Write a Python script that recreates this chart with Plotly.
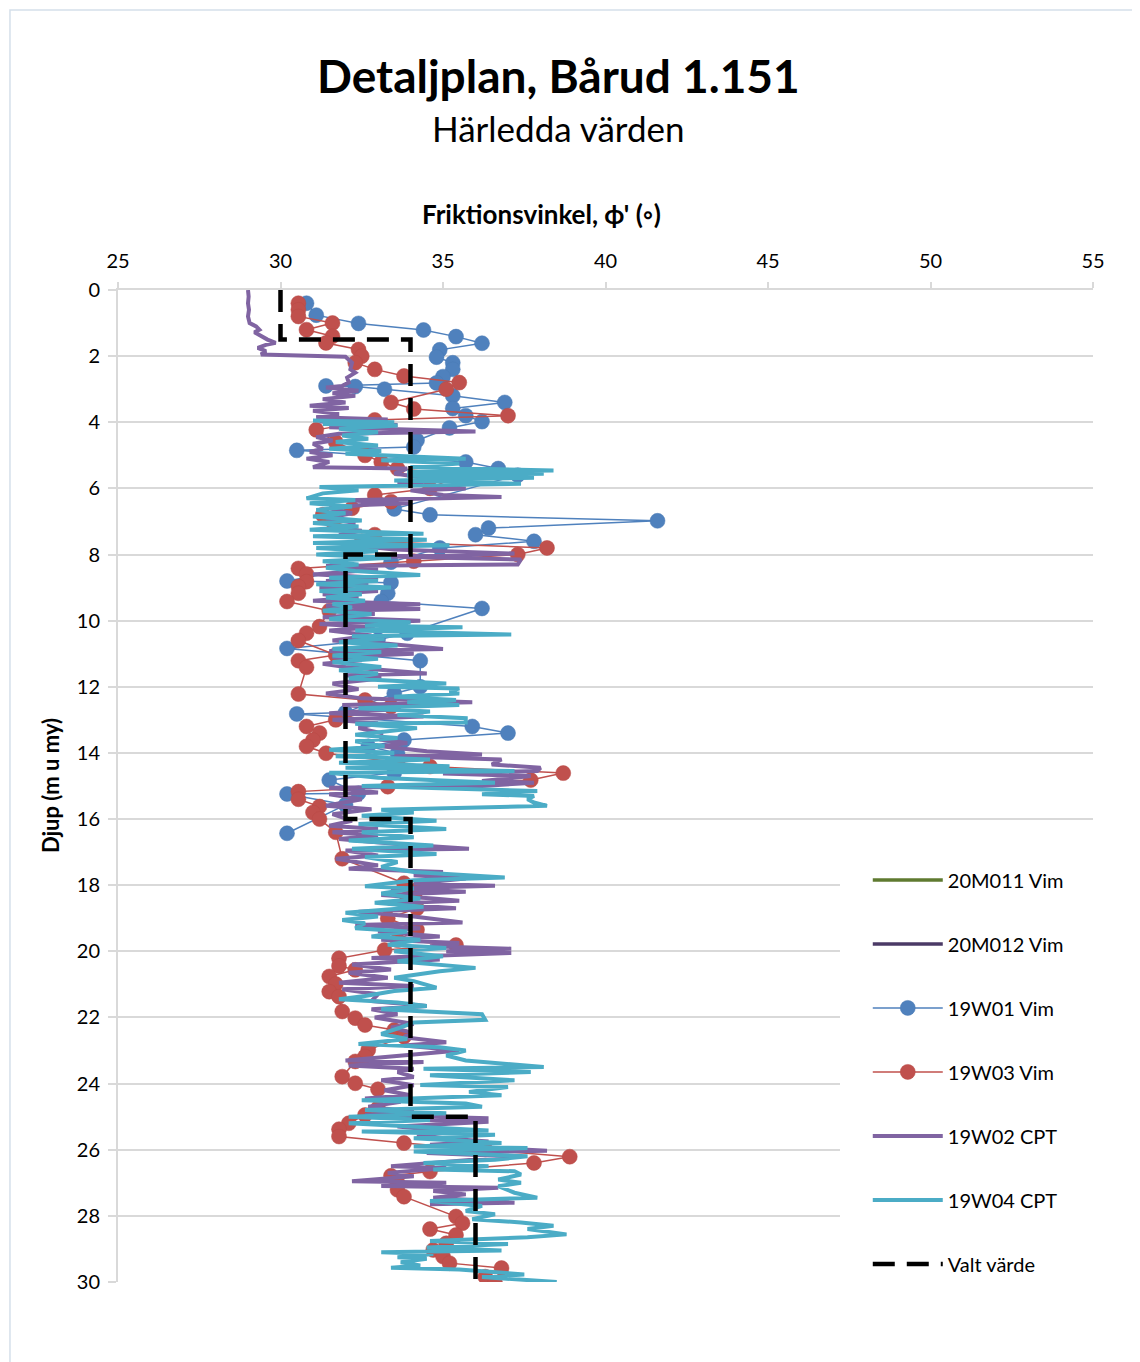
import plotly.graph_objects as go

# ---------------- data (depth m, friction angle deg) ----------------
W01_VIM = [
    (0.40, 30.8), (0.76, 31.1), (1.01, 32.4), (1.21, 34.4), (1.41, 35.4), (1.61, 36.2),
    (1.81, 34.9), (2.03, 34.8), (2.20, 35.3), (2.40, 35.3), (2.62, 35.0), (2.81, 34.8),
    (2.90, 31.4), (2.92, 32.3), (3.00, 33.2), (3.20, 35.3), (3.40, 36.9), (3.58, 35.3),
    (3.80, 35.7), (3.98, 36.2), (4.17, 35.2), (4.55, 34.2), (4.75, 34.1), (4.85, 30.5),
    (5.20, 35.7), (5.40, 36.7), (5.60, 37.3), (6.62, 33.5), (6.80, 34.6), (6.98, 41.6),
    (7.20, 36.4), (7.40, 36.0), (7.60, 37.8), (7.80, 34.9), (8.23, 33.4), (8.80, 30.2),
    (8.85, 33.4), (9.17, 33.3), (9.42, 33.1), (9.63, 36.2), (10.38, 33.9), (10.58, 33.0),
    (10.84, 30.2), (11.21, 34.3), (12.00, 34.3), (12.20, 33.5), (12.78, 32.0), (12.82, 30.5),
    (13.20, 35.9), (13.40, 37.0), (13.61, 33.8), (13.80, 32.7), (14.01, 33.6), (14.26, 33.6),
    (14.60, 33.5), (14.82, 31.5), (15.22, 32.4), (15.24, 30.2), (15.57, 32.0), (16.43, 30.2),
]

W03_VIM = [
    (0.40, 30.55), (0.60, 30.55), (0.80, 30.55), (1.00, 31.6), (1.20, 30.8), (1.40, 31.6),
    (1.60, 31.4), (1.80, 32.4), (2.00, 32.5), (2.20, 32.3), (2.40, 32.9), (2.60, 33.8),
    (2.80, 35.5), (3.00, 35.1), (3.40, 33.4), (3.60, 34.1), (3.80, 37.0), (3.93, 32.9),
    (4.23, 31.1), (4.60, 31.7), (5.00, 32.6), (5.20, 33.1), (5.40, 33.6), (5.60, 35.5),
    (6.00, 34.6), (6.20, 32.9), (6.40, 33.4), (6.60, 32.2), (6.80, 31.3), (7.00, 31.6),
    (7.40, 32.9), (7.60, 32.5), (7.80, 38.2), (8.00, 37.3), (8.20, 34.1), (8.42, 30.55),
    (8.59, 30.8), (8.82, 30.8), (8.97, 30.55), (9.17, 30.55), (9.42, 30.2), (9.70, 31.5),
    (10.18, 31.2), (10.38, 30.8), (10.60, 30.55), (11.04, 31.7), (11.21, 30.55), (11.41, 30.8),
    (12.22, 30.55), (12.40, 32.6), (12.60, 33.4), (13.00, 31.7), (13.20, 30.8), (13.40, 31.2),
    (13.61, 31.0), (13.80, 30.8), (14.01, 31.4), (14.41, 34.6), (14.61, 38.7), (14.82, 37.7),
    (15.02, 33.3), (15.17, 30.55), (15.40, 30.55), (15.62, 31.2), (15.80, 31.0), (16.00, 31.2),
    (16.40, 31.7), (17.20, 31.9), (17.94, 33.8), (18.14, 34.2), (18.40, 33.9), (18.70, 34.2),
    (19.00, 33.3), (19.35, 34.2), (19.66, 33.6), (19.81, 35.4), (19.96, 33.2), (20.21, 31.8),
    (20.44, 31.8), (20.56, 32.3), (20.76, 31.5), (20.99, 31.7), (21.22, 31.5), (21.37, 31.8),
    (21.82, 31.9), (22.02, 32.3), (22.23, 32.6), (22.38, 33.5), (22.58, 33.8), (22.98, 32.7),
    (23.18, 32.6), (23.33, 32.3), (23.79, 31.9), (23.99, 32.3), (24.17, 33.0), (24.74, 33.0),
    (24.95, 32.6), (25.20, 32.1), (25.38, 31.8), (25.60, 31.8), (25.80, 33.8), (25.99, 36.3),
    (26.21, 38.9), (26.40, 37.8), (26.66, 34.6), (26.79, 33.4), (27.00, 33.6), (27.21, 33.6),
    (27.42, 33.8), (28.02, 35.4), (28.22, 35.6), (28.40, 34.6), (28.58, 35.4), (28.83, 35.1),
    (29.03, 34.7), (29.23, 35.0), (29.43, 35.2), (29.58, 36.8), (29.84, 36.3), (30.02, 36.6),
]

W02_CPT = [
    (0.00, 29.00), (0.20, 29.02), (0.40, 29.00), (0.60, 29.03), (0.80, 29.00), (1.00, 29.05),
    (1.10, 29.25), (1.20, 29.35), (1.28, 29.20), (1.40, 29.40), (1.50, 29.60), (1.60, 29.85),
    (1.66, 29.55), (1.75, 29.30), (1.85, 29.55), (1.95, 29.40), (2.02, 32.00), (2.20, 32.20),
    (2.40, 32.15), (2.50, 32.30), (2.65, 32.05), (2.80, 32.10), (2.90, 31.90), (2.95, 31.40),
    (3.05, 32.40), (3.12, 31.60), (3.20, 32.30), (3.30, 31.30), (3.40, 32.00), (3.50, 30.90),
    (3.57, 32.10), (3.65, 31.00), (3.75, 31.80), (3.85, 31.10), (3.92, 33.30), (3.98, 31.20),
    (4.08, 33.60), (4.15, 31.50), (4.28, 36.00), (4.35, 31.80), (4.45, 31.10), (4.55, 31.60),
    (4.65, 31.00), (4.80, 31.30), (4.90, 30.90), (5.00, 31.60), (5.10, 30.80), (5.20, 31.50),
    (5.36, 31.00), (5.40, 33.90), (5.55, 33.50), (5.65, 34.20), (5.76, 35.10), (5.85, 33.60),
    (6.00, 35.70), (6.06, 34.00), (6.20, 35.00), (6.26, 36.80), (6.36, 32.00), (6.45, 34.00),
    (6.50, 32.50), (6.60, 31.50), (6.75, 32.20), (6.90, 31.40), (7.05, 32.30), (7.20, 31.50),
    (7.28, 32.50), (7.40, 31.80), (7.55, 33.00), (7.70, 32.00), (7.85, 33.50), (7.97, 37.20),
    (8.05, 33.00), (8.15, 37.40), (8.30, 37.30), (8.35, 31.40), (8.45, 33.00), (8.60, 31.00),
    (8.70, 33.00), (8.80, 31.40), (8.90, 32.70), (9.00, 31.20), (9.10, 33.00), (9.20, 31.30),
    (9.30, 32.40), (9.40, 31.00), (9.50, 34.30), (9.55, 31.40), (9.65, 34.30), (9.70, 31.50),
    (9.80, 32.90), (9.90, 31.30), (10.00, 34.30), (10.10, 31.20), (10.20, 32.90), (10.30, 31.50),
    (10.45, 32.80), (10.60, 31.60), (10.70, 33.30), (10.86, 35.00), (10.92, 31.50), (11.00, 34.10),
    (11.10, 31.60), (11.20, 32.50), (11.30, 31.30), (11.40, 32.00), (11.60, 34.50), (11.65, 32.00),
    (11.75, 33.10), (11.90, 31.60), (12.07, 32.40), (12.20, 31.40), (12.35, 32.50), (12.47, 35.90),
    (12.55, 31.90), (12.67, 33.70), (12.80, 31.50), (12.90, 34.40), (13.00, 31.60), (13.10, 33.00),
    (13.25, 32.40), (13.40, 33.10), (13.60, 33.10), (13.70, 33.90), (13.80, 33.10), (13.95, 34.50),
    (14.05, 36.20), (14.10, 33.50), (14.20, 36.80), (14.35, 36.50), (14.45, 38.00), (14.55, 37.90),
    (14.62, 35.00), (14.70, 37.70), (14.85, 36.20), (14.90, 37.80), (15.00, 36.20), (15.05, 31.50),
    (15.20, 33.00), (15.25, 31.50), (15.40, 32.50), (15.60, 31.40), (15.70, 32.80), (15.85, 31.60),
    (16.05, 32.20), (16.20, 31.50), (16.30, 33.00), (16.40, 31.60), (16.50, 33.00), (16.60, 31.80),
    (16.75, 33.50), (16.90, 35.80), (16.95, 32.00), (17.10, 33.00), (17.20, 31.70), (17.40, 33.00),
    (17.50, 32.10), (17.60, 35.00), (17.70, 34.10), (17.80, 35.70), (17.95, 34.10), (18.02, 36.60),
    (18.10, 33.40), (18.20, 35.70), (18.30, 33.10), (18.40, 34.70), (18.47, 35.50), (18.55, 33.30),
    (18.70, 35.40), (18.80, 32.40), (18.95, 34.10), (19.13, 35.60), (19.20, 32.30), (19.30, 34.30),
    (19.40, 33.00), (19.55, 34.90), (19.65, 33.10), (19.75, 35.50), (19.85, 34.60), (19.92, 37.10),
    (20.00, 35.10), (20.05, 37.10), (20.20, 32.80), (20.25, 34.90), (20.40, 32.20), (20.55, 33.40),
    (20.65, 32.10), (20.80, 33.30), (20.95, 31.80), (21.05, 34.10), (21.15, 31.90), (21.30, 33.00),
    (21.50, 32.80), (21.65, 34.50), (21.75, 32.80), (21.90, 33.60), (22.00, 32.90), (22.20, 34.10),
    (22.30, 33.40), (22.45, 34.00), (22.60, 33.80), (22.75, 35.10), (22.85, 33.80), (23.00, 35.50),
    (23.10, 34.30), (23.30, 32.00), (23.35, 34.40), (23.45, 32.10), (23.55, 34.10), (23.65, 33.60),
    (23.80, 34.10), (23.90, 33.10), (24.05, 34.10), (24.20, 33.20), (24.35, 34.00), (24.45, 32.60),
    (24.55, 33.70), (24.70, 32.70), (24.85, 34.10), (24.95, 32.60), (25.05, 36.40), (25.10, 34.50),
    (25.15, 36.40), (25.30, 33.60), (25.45, 35.30), (25.60, 34.20), (25.75, 36.40), (25.85, 34.60),
    (26.03, 38.20), (26.10, 34.50), (26.20, 37.20), (26.35, 35.10), (26.50, 33.40), (26.55, 35.10),
    (26.70, 33.30), (26.80, 34.10), (26.95, 32.20), (27.00, 35.10), (27.10, 33.10), (27.15, 36.70),
    (27.25, 34.70), (27.35, 35.70), (27.45, 34.70), (27.60, 37.20), (27.65, 34.60),
]

W04_CPT = [
    (3.95, 31.0), (4.00, 33.5), (4.05, 31.3), (4.10, 33.6), (4.20, 31.8), (4.30, 33.0),
    (4.40, 31.9), (4.50, 32.7), (4.60, 31.7), (4.70, 33.0), (4.80, 31.5), (4.87, 33.1),
    (4.95, 32.0), (5.10, 35.7), (5.15, 33.1), (5.25, 35.5), (5.35, 34.0), (5.46, 38.4),
    (5.50, 33.9), (5.56, 38.1), (5.62, 33.9), (5.68, 37.8), (5.76, 33.5), (5.86, 37.4),
    (5.96, 31.2), (6.06, 32.4), (6.15, 31.3), (6.30, 30.8), (6.35, 32.3), (6.45, 30.9),
    (6.55, 32.2), (6.65, 31.1), (6.75, 32.0), (6.85, 31.0), (6.97, 32.5), (7.05, 31.0),
    (7.15, 32.4), (7.25, 30.9), (7.37, 34.4), (7.45, 31.0), (7.55, 34.5), (7.65, 31.0),
    (7.72, 35.2), (7.80, 31.1), (7.90, 33.0), (8.00, 31.1), (8.10, 33.4), (8.20, 31.3),
    (8.30, 32.4), (8.40, 31.4), (8.50, 32.3), (8.62, 34.3), (8.70, 31.5), (8.80, 33.0),
    (8.90, 31.1), (9.00, 33.4), (9.10, 31.2), (9.20, 32.5), (9.30, 31.4), (9.40, 32.6),
    (9.50, 31.6), (9.60, 32.2), (9.70, 31.3), (9.80, 32.8), (9.95, 31.5), (10.05, 34.0),
    (10.15, 32.6), (10.20, 35.6), (10.30, 32.3), (10.42, 37.1), (10.47, 32.2), (10.55, 33.2),
    (10.65, 31.8), (10.75, 33.6), (10.85, 31.6), (10.95, 33.1), (11.05, 31.6), (11.15, 33.0),
    (11.25, 31.6), (11.40, 33.1), (11.50, 31.8), (11.60, 33.0), (11.75, 32.1), (11.90, 35.1),
    (12.00, 33.0), (12.05, 35.5), (12.15, 35.2), (12.20, 35.5), (12.30, 33.5), (12.40, 35.4),
    (12.47, 33.9), (12.55, 35.5), (12.65, 32.4), (12.75, 34.6), (12.85, 33.6), (12.95, 35.7),
    (13.08, 35.7), (13.12, 32.3), (13.25, 34.2), (13.45, 32.3), (13.55, 33.6), (13.65, 32.3),
    (13.80, 33.2), (13.90, 31.5), (14.00, 33.5), (14.10, 31.7), (14.20, 34.6), (14.30, 31.8),
    (14.40, 35.2), (14.45, 32.0), (14.55, 37.2), (14.60, 31.5), (14.75, 33.0), (14.90, 36.6),
    (15.00, 32.5), (15.15, 37.9), (15.25, 36.2), (15.30, 37.8), (15.40, 37.6), (15.50, 37.8),
    (15.60, 38.2), (15.65, 36.1), (15.72, 33.1), (15.80, 34.1), (15.90, 32.5), (16.05, 34.8),
    (16.15, 32.4), (16.30, 35.1), (16.40, 32.5), (16.55, 34.1), (16.65, 32.1), (16.80, 34.7),
    (16.90, 32.2), (17.06, 34.8), (17.15, 32.6), (17.30, 33.6), (17.45, 33.1), (17.60, 34.1),
    (17.77, 36.9), (17.85, 34.1), (18.03, 32.6), (18.10, 34.1), (18.25, 33.1), (18.40, 34.3),
    (18.53, 32.9), (18.65, 34.4), (18.83, 32.0), (18.95, 33.0), (19.05, 31.9), (19.15, 32.6),
    (19.30, 32.3), (19.40, 33.9), (19.55, 32.8), (19.65, 34.3), (19.80, 33.3), (19.90, 35.1),
    (20.00, 33.5), (20.15, 35.0), (20.30, 33.6), (20.50, 36.0), (20.60, 34.9), (20.80, 33.5),
    (20.90, 34.1), (21.10, 34.8), (21.20, 33.5), (21.35, 32.6), (21.45, 31.8), (21.55, 33.6),
    (21.65, 34.5), (21.75, 33.1), (21.90, 36.2), (22.07, 36.3), (22.15, 34.1), (22.30, 33.7),
    (22.50, 33.1), (22.65, 33.9), (22.80, 32.4), (22.90, 34.9), (23.00, 35.7), (23.15, 35.1),
    (23.30, 35.7), (23.50, 38.1), (23.55, 34.4), (23.65, 37.7), (23.75, 34.6), (23.90, 37.2),
    (24.04, 34.3), (24.10, 37.0), (24.25, 35.8), (24.35, 36.8), (24.50, 32.5), (24.60, 35.7),
    (24.70, 36.2), (24.80, 32.6), (24.90, 35.1), (25.00, 32.1), (25.10, 34.6), (25.20, 32.1),
    (25.42, 36.4), (25.45, 32.5), (25.55, 36.6), (25.65, 34.1), (25.80, 36.8), (25.90, 34.1),
    (25.95, 37.6), (26.05, 34.1), (26.20, 37.6), (26.30, 36.6), (26.40, 34.4), (26.50, 36.4),
    (26.60, 34.7), (26.65, 37.2), (26.75, 37.4), (26.90, 36.7), (27.00, 37.4), (27.10, 36.7),
    (27.30, 37.2), (27.45, 37.9), (27.55, 34.6), (27.70, 36.2), (27.85, 35.7), (27.95, 36.6),
    (28.10, 35.9), (28.20, 37.4), (28.30, 38.4), (28.40, 37.6), (28.56, 38.8), (28.65, 37.6),
    (28.76, 34.6), (28.85, 37.0), (28.96, 34.5), (29.05, 36.8), (29.10, 33.1), (29.15, 34.7),
    (29.25, 33.6), (29.30, 34.5), (29.40, 33.7), (29.50, 34.3), (29.57, 33.4), (29.62, 35.5),
    (29.77, 37.5), (29.85, 36.2), (30.00, 38.5),
]

M011_VIM = []   # no visible data in the chart
M012_VIM = []   # no visible data in the chart

VALT_DEPTH = [0, 1.5, 1.5, 8, 8, 16, 16, 25, 25, 30]
VALT_PHI = [30, 30, 34, 34, 32, 32, 34, 34, 36, 36]

X_TICKS = [25, 30, 35, 40, 45, 50, 55]
Y_TICKS = list(range(0, 31, 2))


def split(pairs):
    return [p[1] for p in pairs], [p[0] for p in pairs]


FONT = "Lato, 'Open Sans', 'DejaVu Sans', sans-serif"
GRID = "#D9D9D9"

fig = go.Figure()

x, y = split(M011_VIM)
fig.add_trace(go.Scatter(x=x if x else [None], y=y if y else [None], mode="lines",
                         name="20M011 Vim", legendgroup="a",
                         line=dict(color="#5F7A30", width=3.5)))
x, y = split(M012_VIM)
fig.add_trace(go.Scatter(x=x if x else [None], y=y if y else [None], mode="lines",
                         name="20M012 Vim", legendgroup="b",
                         line=dict(color="#4B3A66", width=3.5)))
x, y = split(W01_VIM)
fig.add_trace(go.Scatter(x=x, y=y, mode="lines+markers", name="19W01 Vim", legendgroup="c",
                         line=dict(color="#4F81BD", width=1.5),
                         marker=dict(color="#4F81BD", size=15,
                                     line=dict(color="#4A7AB5", width=0.5))))
x, y = split(W03_VIM)
fig.add_trace(go.Scatter(x=x, y=y, mode="lines+markers", name="19W03 Vim", legendgroup="d",
                         line=dict(color="#C0504D", width=1.5),
                         marker=dict(color="#C0504D", size=15,
                                     line=dict(color="#B84A47", width=0.5))))
x, y = split(W02_CPT)
fig.add_trace(go.Scatter(x=x, y=y, mode="lines", name="19W02 CPT", legendgroup="e",
                         line=dict(color="#8064A2", width=4)))
x, y = split(W04_CPT)
fig.add_trace(go.Scatter(x=x, y=y, mode="lines", name="19W04 CPT", legendgroup="f",
                         line=dict(color="#4BACC6", width=4)))
fig.add_trace(go.Scatter(x=VALT_PHI, y=VALT_DEPTH, mode="lines", name="Valt värde",
                         legendgroup="g",
                         line=dict(color="black", width=4.5, dash="22px,12px")))

fig.update_layout(
    width=1132, height=1354,
    margin=dict(l=110, r=47, t=282, b=80),
    paper_bgcolor="white", plot_bgcolor="white",
    font=dict(family=FONT, color="black", size=20),
    showlegend=True,
    legend=dict(x=0.769, xanchor="left", y=0.425, yanchor="top",
                bgcolor="rgba(0,0,0,0)", font=dict(size=20, family=FONT),
                tracegroupgap=35, traceorder="grouped", itemwidth=70),
    xaxis=dict(range=[25, 55], side="top", tickvals=X_TICKS, showgrid=False,
               zeroline=False, showline=True, linecolor=GRID, linewidth=2,
               ticks="outside", ticklen=6, tickcolor=GRID, tickwidth=2,
               tickfont=dict(size=20), ticklabelstandoff=6),
    yaxis=dict(range=[30, 0], tickvals=Y_TICKS, showgrid=True, gridcolor=GRID,
               gridwidth=2, zeroline=False, showline=True, linecolor=GRID,
               linewidth=2, ticks="outside", ticklen=8, tickcolor=GRID, tickwidth=2,
               tickfont=dict(size=20), ticklabelstandoff=4),
    shapes=[
        dict(type="rect", xref="paper", yref="paper", x0=0.7405, x1=1.02,
             y0=-0.03, y1=0.4355, fillcolor="white", line=dict(width=0),
             layer="above"),
        dict(type="rect", xref="paper", yref="paper", x0=-0.1108, x1=1.06,
             y0=-0.09, y1=1.2823, fillcolor="rgba(0,0,0,0)",
             line=dict(color="#D5DFEA", width=1.5), layer="below"),
    ],
    annotations=[
        dict(text="<b>Detaljplan, Bårud 1.151</b>", xref="paper", yref="paper",
             x=0.4523, y=1.2167, xanchor="center", yanchor="middle", showarrow=False,
             font=dict(size=46, family=FONT)),
        dict(text="Härledda värden", xref="paper", yref="paper",
             x=0.4523, y=1.1633, xanchor="center", yanchor="middle", showarrow=False,
             font=dict(size=35, family=FONT)),
        dict(text="<b>Friktionsvinkel, ϕ' (◦)</b>", xref="paper", yref="paper",
             x=0.4344, y=1.0766, xanchor="center", yanchor="middle", showarrow=False,
             font=dict(size=26, family=FONT)),
        dict(text="<b>Djup (m u my)</b>", xref="paper", yref="paper",
             x=-0.0697, y=0.5, xanchor="center", yanchor="middle", showarrow=False,
             textangle=-90, font=dict(size=22, family=FONT)),
    ],
)

fig.write_html("out.html")
